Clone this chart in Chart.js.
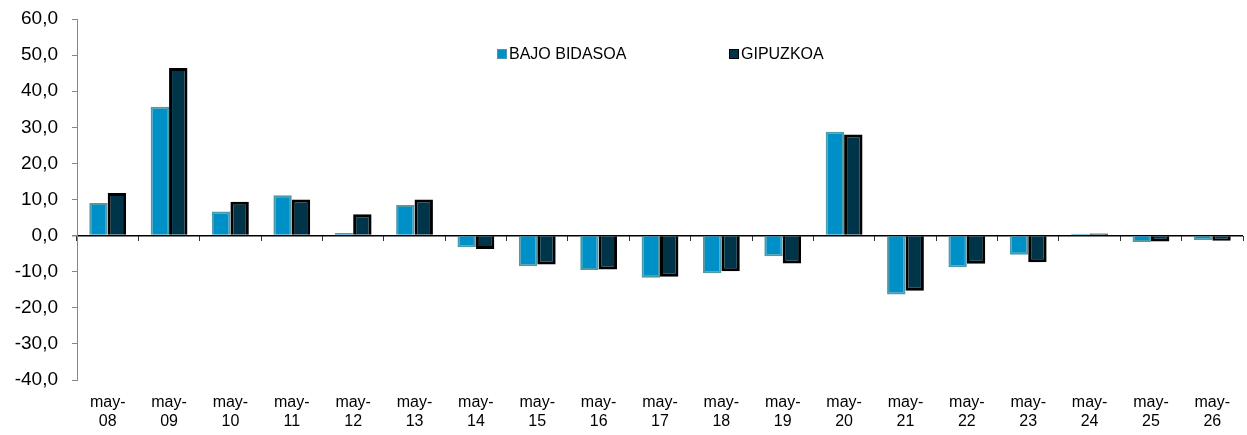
<!DOCTYPE html>
<html lang="es">
<head>
<meta charset="UTF-8">
<title>BAJO BIDASOA / GIPUZKOA</title>
<script src="https://cdn.jsdelivr.net/npm/chart.js"></script>
<style>
  body { margin: 0; background: #fff; }
  #wrap { position: relative; width: 1247px; height: 435px; }
  .leg { position: absolute; top: 46px; font: 16px "Liberation Sans", Arial, sans-serif; line-height: 16px; color: #000; white-space: nowrap; }
  .leg i { display: inline-block; width: 8px; height: 8px; vertical-align: 0px; margin-right: 2px; }
</style>
<script>
    // dias del mes de mayo
    const days = ['08','09','10','11','12','13','14','15','16','17','18','19','20','21','22','23','24','25','26'];
    const bajoBidasoa = [9.0, 35.7, 6.7, 11.2, 0.7, 8.5, -3.2, -8.5, -9.5, -11.7, -10.4, -5.7, 28.8, -16.3, -8.8, -5.3, 0.5, -1.8, -1.2];
    const gipuzkoa = [11.8, 46.4, 9.4, 10.0, 5.9, 10.0, -3.7, -8.0, -9.4, -11.4, -9.9, -7.7, 28.0, -15.3, -7.8, -7.4, 0.6, -1.6, -1.4];
    const yMin = -40, yMax = 60, yStep = 10;

    window.addEventListener("load", () => {
      const labels = days.map(d => ['may-', d]);

      const data = {
        labels: labels,
        datasets: [{
          label: 'BAJO BIDASOA',
          backgroundColor: '#0090c8',
          borderColor: '#4f9aa8',
          borderWidth: 2,
          data: bajoBidasoa,
        }, {
          label: 'GIPUZKOA',
          backgroundColor: '#003549',
          borderColor: '#000000',
          borderWidth: 3,
          data: gipuzkoa,
        }]
      };

      const config = {
        type: 'bar',
        data: data,
        options: {
          responsive: false,
          animation: false,
          categoryPercentage: 0.6,
          barPercentage: 1.0,
          layout: { padding: { top: 19, right: 4, bottom: 0, left: 0 } },
          plugins: { legend: { display: false }, tooltip: { enabled: false } },
          scales: {
            x: {
              type: 'category',
              grid: { display: false, drawTicks: false },
              border: { display: false },
              ticks: {
                color: '#000',
                font: { family: '"Liberation Sans", Arial, sans-serif', size: 16 },
                padding: 13,
                maxRotation: 0,
                autoSkip: false
              },
              afterFit: (s) => { s.height = 55; }
            },
            // marcas bajo la linea del cero
            x2: {
              type: 'category',
              axis: 'x',
              position: { y: 0 },
              offset: true,
              grid: { offset: true, drawOnChartArea: false, drawTicks: true, tickLength: 5, color: '#333', tickColor: '#333' },
              border: { display: false },
              ticks: { display: false },
              afterFit: (s) => { s.height = 0; }
            },
            y: {
              min: yMin,
              max: yMax,
              border: { display: true, color: '#868686', width: 1 },
              grid: {
                color: (c) => c.tick && c.tick.value === 0 ? '#000' : 'rgba(0,0,0,0)',
                lineWidth: (c) => c.tick && c.tick.value === 0 ? 1.5 : 1,
                tickColor: '#868686',
                tickLength: 5
              },
              ticks: {
                stepSize: yStep,
                color: '#000',
                padding: 14,
                font: { family: '"Liberation Sans", Arial, sans-serif', size: 19 },
                callback: (v) => v.toFixed(1).replace('.', ',')
              },
              afterFit: (s) => { s.width = 77; s.paddingTop = 0; s.paddingBottom = 0; }
            }
          }
        }
      };

      new Chart(document.getElementById('myChart'), config);
    });
</script>
</head>
<body>
  <div id="wrap">
    <canvas id="myChart" width="1247" height="435"></canvas>
    <div class="leg" style="left:497px"><i style="background:#0090c8;border:1px solid #4f9aa8"></i>BAJO BIDASOA</div>
    <div class="leg" style="left:729px"><i style="background:#003549;border:1px solid #000"></i>GIPUZKOA</div>
  </div>
</body>
</html>
